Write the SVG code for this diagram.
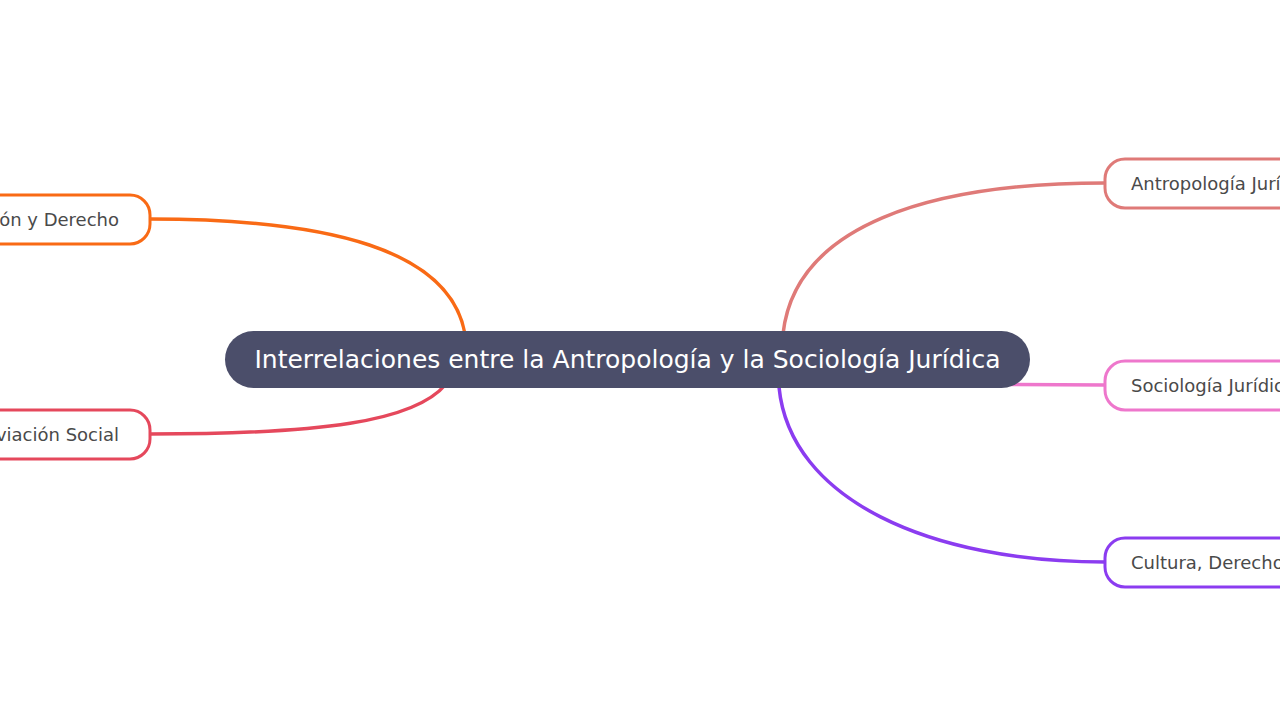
<svg xmlns="http://www.w3.org/2000/svg" width="1280" height="720" viewBox="0 0 1280 720">
<style>
.conn{fill:none;stroke-width:3.5;stroke-linecap:round}
.box{fill:#ffffff;stroke-width:3}
.lbl{font-family:"DejaVu Sans",sans-serif;font-size:18px;fill:#4a4a4a}
.main{font-family:"DejaVu Sans",sans-serif;font-size:25px;fill:#ffffff}
</style>
<rect width="1280" height="720" fill="#ffffff"/>
<g id="connectors">
<path class="conn" stroke="#f96a15" d="M465 334 C450 250 330 219 150 219"/>
<path class="conn" stroke="#e5485c" d="M446 384 C415 422 320 434 150 434"/>
<path class="conn" stroke="#df7a78" d="M783 334 C795 225 930 183 1105 183"/>
<path class="conn" stroke="#ee77cc" d="M1010 384.5 L1105 385"/>
<path class="conn" stroke="#8b3cf0" d="M779 387 C790 500 930 562 1105 562"/>
</g>
<g id="node-left1">
<rect class="box" x="-200" y="195" width="350" height="49" rx="20" stroke="#f96a15"/>
<text class="lbl" x="119" y="226" text-anchor="end">ón y Derecho</text>
</g>
<g id="node-left2">
<rect class="box" x="-200" y="410" width="350" height="49" rx="20" stroke="#e5485c"/>
<text class="lbl" x="119" y="441" text-anchor="end">viación Social</text>
</g>
<g id="node-right1">
<rect class="box" x="1105" y="159" width="400" height="49" rx="20" stroke="#df7a78"/>
<text class="lbl" x="1131" y="190">Antropología Jurí</text>
</g>
<g id="node-right2">
<rect class="box" x="1105" y="361" width="400" height="49" rx="20" stroke="#ee77cc"/>
<text class="lbl" x="1131" y="392">Sociología Jurídic</text>
</g>
<g id="node-right3">
<rect class="box" x="1105" y="538" width="400" height="49" rx="20" stroke="#8b3cf0"/>
<text class="lbl" x="1131" y="569">Cultura, Derecho</text>
</g>
<g id="node-center">
<rect x="225" y="331" width="805" height="57" rx="28.5" fill="#4b4e6a"/>
<text class="main" x="627.5" y="368" text-anchor="middle">Interrelaciones entre la Antropología y la Sociología Jurídica</text>
</g>
</svg>
